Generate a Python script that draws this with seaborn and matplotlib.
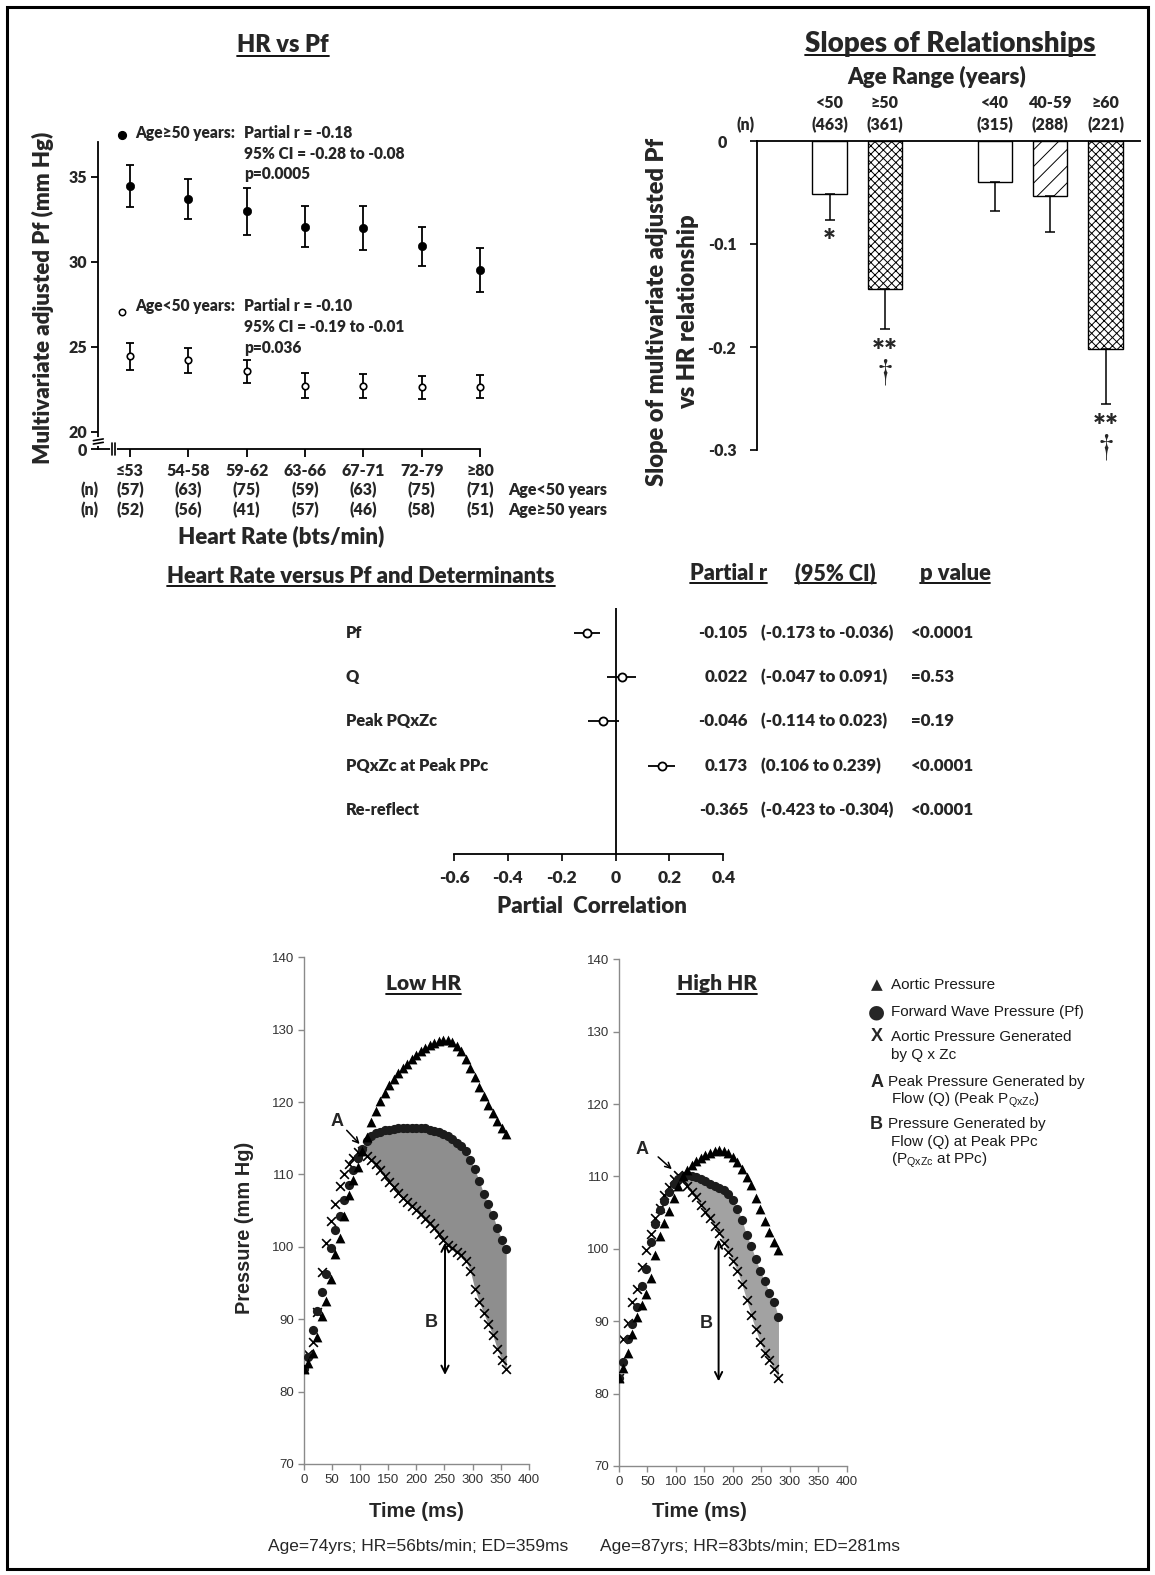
import matplotlib
matplotlib.use("Agg")
import matplotlib.pyplot as plt
import numpy as np
import pandas as pd
import seaborn as sns
from matplotlib.lines import Line2D
from matplotlib.patches import Rectangle
from matplotlib.transforms import blended_transform_factory as blend

# ---------------- HR vs Pf (top left)
hr_bins = ["≤53", "54-58", "59-62", "63-66", "67-71", "72-79", "≥80"]
n_young = [57, 63, 75, 59, 63, 75, 71]
n_old = [52, 56, 41, 57, 46, 58, 51]
pf_old = [34.45, 33.68, 32.96, 32.05, 32.0, 30.9, 29.5]
pf_old_err = [1.25, 1.19, 1.39, 1.2, 1.3, 1.16, 1.28]
pf_young = [24.43, 24.2, 23.55, 22.7, 22.68, 22.6, 22.65]
pf_young_err = [0.8, 0.75, 0.69, 0.75, 0.71, 0.66, 0.7]

# ---------------- slopes (top right)
age_groups = ["<50", "≥50", "<40", "40-59", "≥60"]
age_n = [463, 361, 315, 288, 221]
age_pos = [0, 1, 3, 4, 5]
slopes = [-0.0518, -0.144, -0.0395, -0.0531, -0.2023]
slope_err = [0.0249, 0.0388, 0.0285, 0.0356, 0.0534]
slope_hatch = ["", "xxxx", "", "//", "xxxx"]
slope_marks = ["*", "**\n$\\mathrm{\\dagger}$", "", "", "**\n$\\mathrm{\\dagger}$"]

# ---------------- partial correlations (middle)
determinants = ["Pf", "Q", "Peak PQxZc", "PQxZc at Peak PPc", "Re-reflect"]
partial_r = [-0.105, 0.022, -0.046, 0.173, -0.365]
ci_text = ["(-0.173 to -0.036)", "(-0.047 to 0.091)", "(-0.114 to 0.023)",
           "(0.106 to 0.239)", "(-0.423 to -0.304)"]
p_text = ["<0.0001", "=0.53", "=0.19", "<0.0001", "<0.0001"]
# whiskers as drawn in the figure; Re-reflect is not plotted
whisk_lo = [-0.156, -0.031, -0.103, 0.122, np.nan]
whisk_hi = [-0.057, 0.074, 0.012, 0.222, np.nan]
drawn = [True, True, True, True, False]

# ---------------- pressure waveforms (bottom)
t_low = [0, 8, 16, 24, 32, 40, 48, 56, 64, 72, 80, 88, 96, 104, 112, 120, 128, 136,
         144, 152, 160, 168, 176, 184, 192, 200, 208, 216, 224, 232, 240, 248, 256,
         264, 272, 280, 288, 296, 304, 312, 320, 328, 336, 344, 352, 360]
aortic_low = [83.1, 84.0, 85.3, 87.5, 90.5, 92.5, 95.5, 99.0, 101.2, 104.2, 107.2, 109.2,
              111.0, 113.2, 115.2, 117.3, 118.8, 120.1, 121.3, 122.3, 123.2, 124.0, 124.7,
              125.3, 125.9, 126.5, 127.0, 127.5, 127.9, 128.2, 128.5, 128.6, 128.6, 128.3,
              127.8, 127.0, 125.9, 124.7, 123.4, 122.1, 120.8, 119.6, 118.5, 117.4, 116.4, 115.6]
pf_low = [83.1, 84.8, 88.5, 91.2, 93.8, 96.2, 99.8, 102.3, 104.2, 106.5, 108.5, 110.6,
          112.3, 113.5, 114.6, 115.3, 115.7, 115.9, 116.1, 116.2, 116.3, 116.35, 116.4,
          116.4, 116.4, 116.4, 116.4, 116.35, 116.2, 116.0, 115.8, 115.6, 115.3, 114.9,
          114.4, 113.9, 113.2, 112.0, 110.7, 109.1, 107.3, 105.9, 104.4, 102.6, 101.0, 99.7]
qzc_low = [83.1, 85.2, 86.8, 91.0, 96.5, 100.5, 103.6, 105.9, 108.4, 110.0, 111.4, 112.3,
           113.1, 113.2, 112.6, 112.0, 111.4, 110.6, 109.8, 108.9, 108.2, 107.5, 106.8,
           106.2, 105.7, 105.1, 104.5, 103.9, 103.3, 102.6, 101.8, 101.0, 100.3, 99.8,
           99.3, 98.9, 98.1, 96.7, 94.2, 92.4, 90.8, 89.3, 87.8, 85.9, 84.4, 83.1]

t_high = [0, 8, 16, 24, 32, 40, 48, 56, 64, 72, 80, 88, 96, 104, 112, 120, 128, 136,
          144, 152, 160, 168, 176, 184, 192, 200, 208, 216, 224, 232, 240, 248, 256,
          264, 272, 280]
aortic_high = [82.1, 83.6, 85.6, 88.2, 90.6, 92.3, 93.8, 96.0, 99.2, 101.8, 103.6, 105.2,
               107.0, 108.7, 110.0, 110.9, 111.6, 112.1, 112.6, 113.0, 113.3, 113.5, 113.6,
               113.5, 113.2, 112.7, 112.0, 111.0, 109.9, 108.8, 107.0, 105.5, 103.8, 102.3,
               101.0, 99.9]
pf_high = [82.1, 84.3, 87.6, 89.6, 91.9, 94.8, 97.2, 101.0, 103.4, 105.3, 106.6, 107.9,
           108.9, 109.7, 110.1, 110.2, 110.1, 109.9, 109.7, 109.4, 109.0, 108.7, 108.4,
           108.1, 107.6, 106.8, 105.5, 104.0, 101.9, 100.4, 98.6, 96.9, 95.5, 93.9, 92.7, 90.6]
qzc_high = [82.1, 87.5, 89.8, 92.6, 94.5, 97.5, 99.8, 102.0, 104.3, 105.7, 107.5, 108.5,
            109.7, 110.2, 109.5, 108.7, 107.9, 107.1, 106.1, 105.1, 104.2, 103.2, 102.2,
            100.8, 99.6, 98.3, 96.9, 95.1, 93.0, 90.8, 88.9, 87.1, 85.6, 84.7, 83.4, 82.1]

W, H = 1155, 1575
sns.set_style("ticks")
plt.rcParams.update({
    "font.family": ["Lato", "DejaVu Sans"],
    "font.weight": "heavy",
    "axes.unicode_minus": False,
    "hatch.linewidth": 0.7,
    "hatch.color": "black",
    "mathtext.default": "regular",
    "mathtext.fontset": "stix",
})
ARIAL = ["Liberation Sans", "DejaVu Sans"]

fig = plt.figure(figsize=(W / 100, H / 100), dpi=100)


def fx(px):
    return px / W


def fy(py):
    return 1 - py / H


def add_ax(left, top, right, bottom):
    return fig.add_axes([fx(left), fy(bottom), (right - left) / W, (bottom - top) / H])


underlined = []


def utitle(x, ybase, s, size):
    t = fig.text(fx(x), fy(ybase), s, ha="center", va="baseline", fontsize=size)
    underlined.append((t, ybase))


def style_spines(ax, show, lw=1.3, color="black"):
    for side, sp in ax.spines.items():
        sp.set_visible(side in show)
        sp.set_linewidth(lw)
        sp.set_color(color)


# ===================== HR vs Pf
ax1 = add_ax(98.3, 141.7, 480, 449.3)
x1 = np.arange(len(hr_bins))
for vals, errs in ((pf_old, pf_old_err), (pf_young, pf_young_err)):
    ax1.errorbar(x1, vals, yerr=errs, fmt="none", ecolor="black", elinewidth=1.3,
                 capsize=3, capthick=1.3, clip_on=False, zorder=2)
sns.scatterplot(x=x1, y=pf_old, ax=ax1, color="black", s=36, edgecolor="black",
                zorder=3, clip_on=False)
sns.scatterplot(x=x1, y=pf_young, ax=ax1, color="white", s=22, edgecolor="black",
                linewidth=1.2, zorder=3, clip_on=False)
ax1.set_xlim(-0.543, 6.0)
ax1.set_ylim(18.96, 37.06)
ax1.set_xticks(x1, hr_bins)
ax1.set_yticks([18.96, 20, 25, 30, 35], ["0", "20", "25", "30", "35"])
ax1.tick_params(axis="x", length=6, width=1.3, pad=4, labelsize=11.5, color="black")
ax1.tick_params(axis="y", length=5, width=1.3, pad=3, labelsize=11.5, color="black")
style_spines(ax1, ("left", "bottom"))
# axis breaks
ty = blend(ax1.transAxes, ax1.transData)
ax1.plot([0, 0], [19.3, 19.55], transform=ty, color="white", lw=3, clip_on=False, zorder=5)
for yy in (19.32, 19.52):
    ax1.plot([-0.013, 0.013], [yy - 0.05, yy + 0.05], transform=ty, color="black",
             lw=1.2, clip_on=False, zorder=6)
tx = blend(ax1.transData, ax1.transAxes)
ax1.plot([-0.31, -0.26], [0, 0], transform=tx, color="white", lw=3, clip_on=False, zorder=5)
for xx in (-0.314, -0.257):
    ax1.plot([xx, xx], [-0.02, 0.02], transform=tx, color="black", lw=1.2,
             clip_on=False, zorder=6)

trow = blend(ax1.transData, fig.transFigure)
for i in range(len(hr_bins)):
    ax1.text(i, fy(490), f"({n_young[i]})", transform=trow, ha="center", va="center", fontsize=11.5)
    ax1.text(i, fy(510), f"({n_old[i]})", transform=trow, ha="center", va="center", fontsize=11.5)
for yy, lab in ((490, "Age<50 years"), (510, "Age≥50 years")):
    fig.text(fx(90), fy(yy), "(n)", ha="center", va="center", fontsize=11.5)
    fig.text(fx(508), fy(yy), lab, ha="left", va="center", fontsize=11.5)
fig.text(fx(281), fy(536), "Heart Rate (bts/min)", ha="center", va="center", fontsize=16)
fig.text(fx(43), fy(298), "Multivariate adjusted Pf (mm Hg)", rotation=90,
         ha="center", va="center", fontsize=16)
utitle(283, 52, "HR vs Pf", 17)

fig.add_artist(Line2D([fx(121.7)], [fy(135)], marker="o", ms=5.6, color="black",
                      transform=fig.transFigure))
fig.add_artist(Line2D([fx(121.7)], [fy(311.7)], marker="o", ms=4.6, mfc="white",
                      mec="black", mew=1.1, transform=fig.transFigure))
legend_rows = [
    (133.3, "Age≥50 years:", "Partial r = -0.18"),
    (154.3, None, "95% CI = -0.28 to -0.08"),
    (174.3, None, "p=0.0005"),
    (306, "Age<50 years:", "Partial r = -0.10"),
    (326.7, None, "95% CI = -0.19 to -0.01"),
    (348.3, None, "p=0.036"),
]
for yy, head, body in legend_rows:
    if head:
        fig.text(fx(135), fy(yy), head, ha="left", va="center", fontsize=11.2)
    fig.text(fx(244), fy(yy), body, ha="left", va="center", fontsize=11.2)

# ===================== slopes
ax2 = add_ax(756.7, 141, 1140, 450)
df_slopes = pd.DataFrame({"pos": age_pos, "slope": slopes})
sns.barplot(data=df_slopes, x="pos", y="slope", native_scale=True, width=0.62,
            color="white", edgecolor="black", linewidth=1.0, errorbar=None, ax=ax2)
for patch, h in zip(ax2.patches, slope_hatch):
    patch.set_facecolor("white")
    patch.set_hatch(h)
ax2.errorbar(age_pos, slopes, yerr=[slope_err, [0] * len(slopes)], fmt="none",
             ecolor="black", elinewidth=1.1, capsize=3.6, capthick=1.1)
ax2.set_xlim(-1.319, 5.625)
ax2.set_ylim(-0.3, 0)
ax2.set_xticks([])
ax2.set_xlabel("")
ax2.set_ylabel("")
ax2.set_yticks([0, -0.1, -0.2, -0.3], ["0", "-0.1", "-0.2", "-0.3"])
ax2.tick_params(axis="y", length=5, width=1.2, pad=20, labelsize=11.5, color="black")
for lab in ax2.get_yticklabels():
    lab.set_ha("center")
style_spines(ax2, ("left", "top"))
for i, p in enumerate(age_pos):
    if slope_marks[i]:
        ax2.text(p, slopes[i] - slope_err[i] - 0.008, slope_marks[i], ha="center", va="top",
                 fontsize=22, linespacing=0.6)
thead = blend(ax2.transData, fig.transFigure)
for i, p in enumerate(age_pos):
    ax2.text(p, fy(102.7), age_groups[i], transform=thead, ha="center", va="center", fontsize=11.5)
    ax2.text(p, fy(125), f"({age_n[i]})", transform=thead, ha="center", va="center", fontsize=11.5)
fig.text(fx(746), fy(125), "(n)", ha="center", va="center", fontsize=11.5)
fig.text(fx(937), fy(77.3), "Age Range (years)", ha="center", va="center", fontsize=16)
utitle(950, 51.7, "Slopes of Relationships", 20)
fig.text(fx(656.7), fy(312), "Slope of multivariate adjusted Pf", rotation=90,
         ha="center", va="center", fontsize=17)
fig.text(fx(688.3), fy(312), "vs HR relationship", rotation=90,
         ha="center", va="center", fontsize=17)

# ===================== partial correlations
ax3 = add_ax(454, 608.3, 723.3, 854.3)
rows = np.arange(len(determinants))
shown = np.array(drawn)
ax3.hlines(rows[shown], np.array(whisk_lo)[shown], np.array(whisk_hi)[shown],
           color="black", lw=1.3, zorder=2)
sns.scatterplot(x=np.array(partial_r)[shown], y=rows[shown], ax=ax3, color="white",
                edgecolor="black", s=34, linewidth=1.3, zorder=3)
ax3.axvline(0, color="black", lw=1.3, zorder=1)
ax3.set_xlim(-0.6, 0.4)
ax3.set_ylim(5.0, -0.55)
ax3.set_yticks([])
ax3.set_xticks([-0.6, -0.4, -0.2, 0, 0.2, 0.4], ["-0.6", "-0.4", "-0.2", "0", "0.2", "0.4"])
ax3.tick_params(axis="x", length=5, width=1.2, pad=6, labelsize=12.5, color="black")
style_spines(ax3, ("bottom",))
tcol = blend(fig.transFigure, ax3.transData)
for i in rows:
    ax3.text(fx(345.7), i, determinants[i], transform=tcol, ha="left", va="center", fontsize=11.8)
    ax3.text(fx(748), i, f"{partial_r[i]:.3f}", transform=tcol, ha="right", va="center", fontsize=12.2)
    ax3.text(fx(761), i, ci_text[i], transform=tcol, ha="left", va="center", fontsize=12.2)
    ax3.text(fx(911), i, p_text[i], transform=tcol, ha="left", va="center", fontsize=12.2)
fig.text(fx(592), fy(906.7), "Partial  Correlation", ha="center", va="center", fontsize=16)
utitle(361, 582.7, "Heart Rate versus Pf and Determinants", 15.8)
utitle(728.7, 580, "Partial r", 15.5)
utitle(835.3, 580, "(95% CI)", 15.5)
utitle(955, 580, "p value", 15.8)


# ===================== pressure waveforms
def pressure_panel(ax, t, aortic, pf, qzc, start, shade):
    t, pf, qzc = np.asarray(t), np.asarray(pf), np.asarray(qzc)
    ax.fill_between(t[start:], qzc[start:], pf[start:], color=shade, lw=0, zorder=1)
    sns.scatterplot(x=t, y=qzc, marker="x", color="black", s=40, linewidth=1.2, ax=ax, zorder=2)
    sns.scatterplot(x=t, y=pf, marker="o", color="#1c1c1c", s=44, linewidth=0, ax=ax, zorder=3)
    sns.scatterplot(x=t, y=aortic, marker="^", color="black", s=50, linewidth=0, ax=ax, zorder=4)
    ax.set_xlim(0, 400)
    ax.set_ylim(70, 140)
    ax.set_xticks(range(0, 401, 50))
    ax.set_yticks(range(70, 141, 10))
    ax.tick_params(length=4, width=1, color="#8a8a8a", labelsize=9.5, labelcolor="#333333", pad=3)
    for lab in ax.get_xticklabels() + ax.get_yticklabels():
        lab.set_fontfamily(ARIAL)
        lab.set_fontweight("normal")
    style_spines(ax, ("left", "bottom"), lw=1.0, color="#8a8a8a")


ax4 = add_ax(304, 957.3, 528.7, 1464)
pressure_panel(ax4, t_low, aortic_low, pf_low, qzc_low, 13, "#8e8e8e")
ax5 = add_ax(618.8, 959.3, 846.9, 1466)
pressure_panel(ax5, t_high, aortic_high, pf_high, qzc_high, 13, "#a2a2a2")

for ax, a_txt, a_from, a_to, b_x, b_lo, b_hi, b_txt in (
        (ax4, (59, 117.3), (76, 116.1), (99, 114.2), 251, 82.3, 100.6, (227, 89.5)),
        (ax5, (40, 113.7), (69, 112.7), (93, 111.0), 175, 81.7, 101.3, (154, 89.7))):
    ax.text(*a_txt, "A", family=ARIAL, fontweight="bold", fontsize=13, ha="center", va="center")
    ax.annotate("", xy=a_to, xytext=a_from,
                arrowprops=dict(arrowstyle="->", color="black", lw=1.1, shrinkA=0, shrinkB=0))
    ax.annotate("", xy=(b_x, b_lo), xytext=(b_x, b_hi),
                arrowprops=dict(arrowstyle="<->", color="black", lw=1.4, shrinkA=0, shrinkB=0,
                                mutation_scale=13))
    ax.text(*b_txt, "B", family=ARIAL, fontweight="bold", fontsize=13, ha="center", va="center")

utitle(423.3, 990, "Low HR", 15)
utitle(716.7, 990, "High HR", 15)
fig.text(fx(245), fy(1228), "Pressure (mm Hg)", rotation=90, family=ARIAL,
         fontweight="bold", fontsize=14.4, ha="center", va="center")
for xx, cap in ((418.5, "Age=74yrs; HR=56bts/min; ED=359ms"),
                (750, "Age=87yrs; HR=83bts/min; ED=281ms")):
    fig.text(fx(xx), fy(1546), cap, family=ARIAL, fontweight="normal", fontsize=12.5,
             ha="center", va="center")
for xx in (416.8, 699.4):
    fig.text(fx(xx), fy(1511.7), "Time (ms)", family=ARIAL, fontweight="bold",
             fontsize=14.5, ha="center", va="center")

legend_syms = [(985, "▲", ["DejaVu Sans"], 11), (1012.3, "●", ["DejaVu Sans"], 14),
               (1036.7, "X", ARIAL, 13), (1082.3, "A", ARIAL, 13), (1124.3, "B", ARIAL, 13)]
for yy, sym, fam, size in legend_syms:
    fig.text(fx(876.7), fy(yy), sym, family=fam, fontweight="bold", fontsize=size,
             ha="center", va="center")
legend_lines = [
    (891, 985, "Aortic Pressure"),
    (891, 1012.3, "Forward Wave Pressure (Pf)"),
    (891, 1036.7, "Aortic Pressure Generated"),
    (891, 1055, "by Q x Zc"),
    (888.3, 1082.3, "Peak Pressure Generated by"),
    (890.7, 1100, "Flow (Q) (Peak P$_{QxZc}$)"),
    (888.3, 1124.3, "Pressure Generated by"),
    (890.7, 1142.3, "Flow (Q) at Peak PPc"),
    (890.7, 1160, "(P$_{QxZc}$ at PPc)"),
]
for xx, yy, txt in legend_lines:
    fig.text(fx(xx), fy(yy), txt, family=ARIAL, fontweight="normal", fontsize=11,
             ha="left", va="center", color="#1a1a1a")

# frame round the whole figure
fig.add_artist(Rectangle((fx(7.3), fy(1569)), (1147.7 - 7.3) / W, (1569 - 6.7) / H,
                         transform=fig.transFigure, fill=False, lw=2.2, edgecolor="black"))

renderer = fig.canvas.get_renderer()
for t, yb in underlined:
    bb = t.get_window_extent(renderer)
    fig.add_artist(Line2D([bb.x0 / W, bb.x1 / W], [fy(yb + 3.5)] * 2,
                          transform=fig.transFigure, color="black", lw=1.3))

fig.savefig("out.png", dpi=100, facecolor="white")
